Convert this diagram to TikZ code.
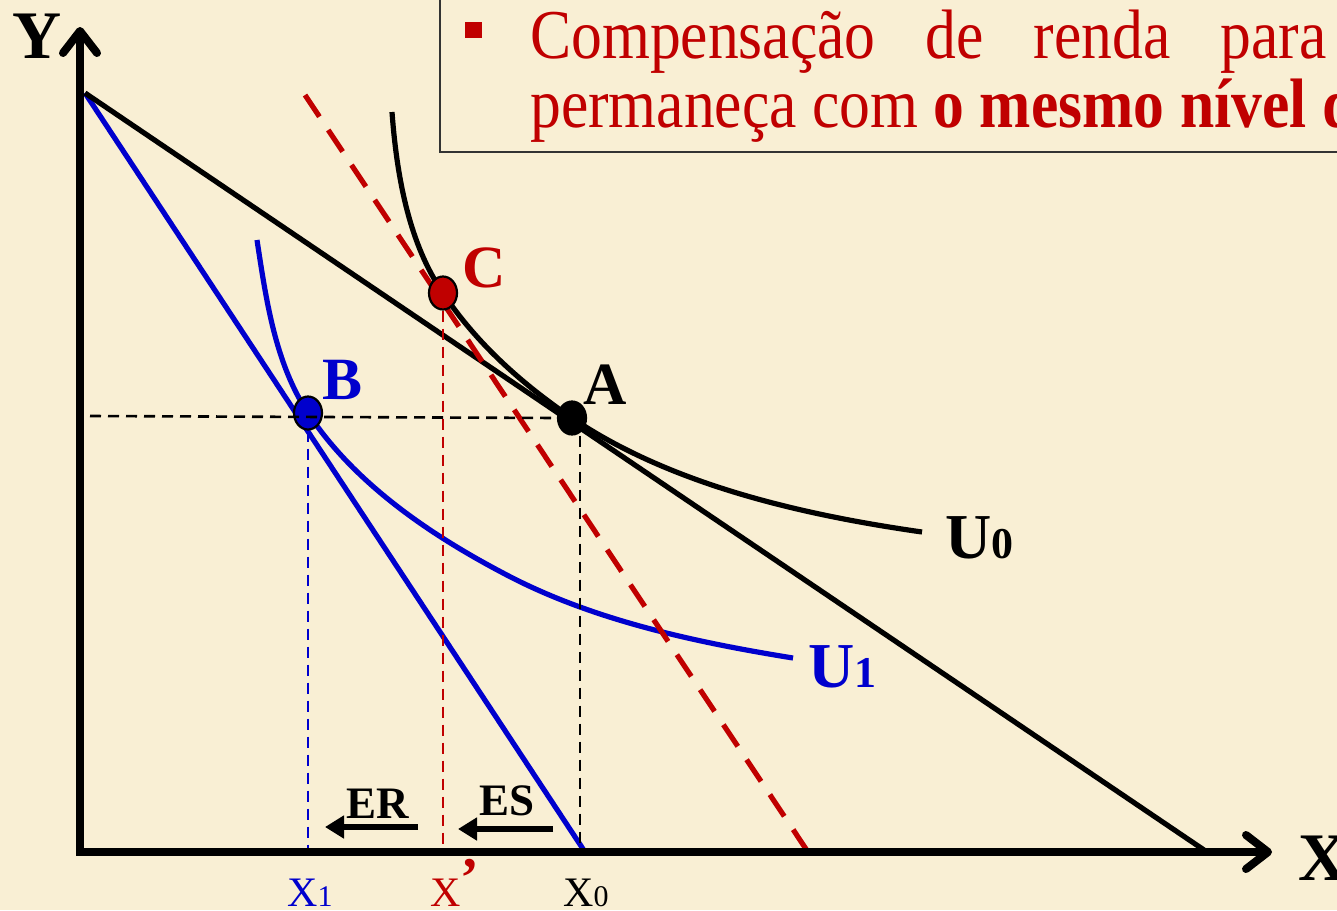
\documentclass[tikz,border=0pt]{standalone}
\usepackage{fontspec}
\setmainfont{Liberation Serif}
\newfontfamily\headfont[FakeStretch=0.88]{Liberation Serif}
\usetikzlibrary{arrows.meta,shapes.geometric}
\definecolor{bg}{RGB}{249,239,212}
\definecolor{myred}{RGB}{192,0,0}
\definecolor{myblue}{RGB}{0,0,205}
\tikzset{
  axisline/.style={line width=8pt, line join=miter,
     {Straight Barb[length=22pt,width=34pt,round]}-{Straight Barb[length=22pt,width=34pt,round]}},
  budget/.style={line width=5.2pt},
  indiff/.style={line width=5.2pt},
  reddash/.style={myred, line width=5.2pt, dash pattern=on 26pt off 16pt},
  guide/.style={line width=2.6pt, dash pattern=on 11pt off 7pt},
  pt/.style={ellipse, draw=black, line width=2.2pt, minimum width=28pt, minimum height=33pt, inner sep=0pt},
  biglbl/.style={font=\bfseries\fontsize{60}{60}\selectfont, inner sep=0pt},
  ulbl/.style={font=\bfseries\fontsize{64}{64}\selectfont, inner sep=0pt, anchor=base west},
  efflbl/.style={font=\bfseries\fontsize{45}{45}\selectfont, inner sep=0pt, anchor=base},
  effarrow/.style={line width=5.5pt, -{Triangle[length=19pt,width=22pt]}},
  xlbl/.style={font=\fontsize{42}{42}\selectfont, inner sep=0pt, anchor=base west},
  axlbl/.style={font=\bfseries\fontsize{68}{68}\selectfont, inner sep=0pt, anchor=base},
  headtxt/.style={text=myred, font=\headfont\fontsize{70}{70}\selectfont, inner sep=0pt, anchor=base west}
}
\begin{document}
\begin{tikzpicture}[x=1pt,y=-1pt]
\useasboundingbox (0,0) rectangle (1337,910);
\clip (0,0) rectangle (1337,910);
\fill[bg] (0,0) rectangle (1337,910);

% key coordinates
\coordinate (O) at (80,852);
\coordinate (Ytip) at (80,27);
\coordinate (Xtip) at (1272,852);
\coordinate (top) at (85,93);
\coordinate (blackend) at (1207,852);
\coordinate (blueend) at (585,852);
\coordinate (r1) at (305,95);
\coordinate (r2) at (808,852);
\coordinate (pA) at (572,418);
\coordinate (pB) at (308,413);
\coordinate (pC) at (443,293);
\coordinate (u0s) at (392,112);
\coordinate (u0e) at (922,532);
\coordinate (u1s) at (257,240);
\coordinate (u1m) at (503,573);
\coordinate (u1e) at (793,658);
\coordinate (hstart) at (90,416);
\coordinate (x1) at (308,852);
\coordinate (xp) at (443,852);
\coordinate (x0) at (580,852);

% text box
\draw[line width=2pt, draw=black!80] (440,-10) rectangle (1350,152);
\node[fill=myred, minimum width=17pt, minimum height=16pt, inner sep=0pt] (bullet) at (473,30) {};
\node[headtxt] (line1) at (530,58) {\spaceskip=50pt Compensação de renda para};
\node[headtxt] (line2) at (530,127) {permaneça com \textbf{o mesmo nível de}};

% budget lines
\draw[budget, myblue] (top) -- (blueend);
\draw[budget] (top) -- (blackend);

% indifference curves
\draw[indiff, myblue] (u1s) .. controls (266,299) and (275,363) .. (pB)
   .. controls (354,483) and (429,534) .. (u1m)
   .. controls (591,620) and (694,642) .. (u1e);
\draw[indiff] (u0s) .. controls (397,180) and (410,245) .. (pC)
   .. controls (476,343) and (522,384) .. (pA)
   .. controls (671,485) and (803,515) .. (u0e);

% compensated budget line
\draw[reddash] (r1) -- (r2);

% points
\node[pt, fill=myred] (C) at (pC) {};
\node[pt, fill=myblue] (B) at (pB) {};
\node[pt, fill=black] (A) at (pA) {};

% guide lines
\draw[guide] (hstart) -- (A.west);
\draw[guide] (x0 |- A.south) -- (x0);
\draw[guide, myblue] (B.south) -- (x1);
\draw[guide, myred] (C.south) -- (xp);

% axes
\draw[axisline] (Ytip) -- (O) -- (Xtip);
\node[axlbl] (Ylbl) at (37,58) {Y};
\node[axlbl, anchor=base west] (Xlbl) at (1298,880) {X};

% point labels
\node[biglbl, text=myred] (Clbl) at (484,268) {C};
\node[biglbl, text=myblue] (Blbl) at (343,380) {B};
\node[biglbl] (Albl) at (605,385) {A};
\node[ulbl] (U0) at (945,558) {U{\fontsize{44}{44}\selectfont 0}};
\node[ulbl, text=myblue] (U1) at (808,687) {U{\fontsize{44}{44}\selectfont 1}};

% effect arrows
\coordinate (erS) at (418,827);
\coordinate (erE) at (325,827);
\coordinate (esS) at (553,829);
\coordinate (esE) at (458,829);
\draw[effarrow] (erS) -- (erE);
\draw[effarrow] (esS) -- (esE);
\node[efflbl] (ER) at (378,818) {ER};
\node[efflbl] (ES) at (507,815) {ES};

% axis quantities
\node[xlbl, text=myblue] (X1) at (287,906) {X{\fontsize{30}{30}\selectfont 1}};
\node[xlbl, text=myred] (Xp) at (430,906) {X\raisebox{10pt}{\bfseries\fontsize{56}{56}\selectfont ’}};
\node[xlbl] (X0) at (563,906) {X{\fontsize{30}{30}\selectfont 0}};
\end{tikzpicture}
\end{document}
